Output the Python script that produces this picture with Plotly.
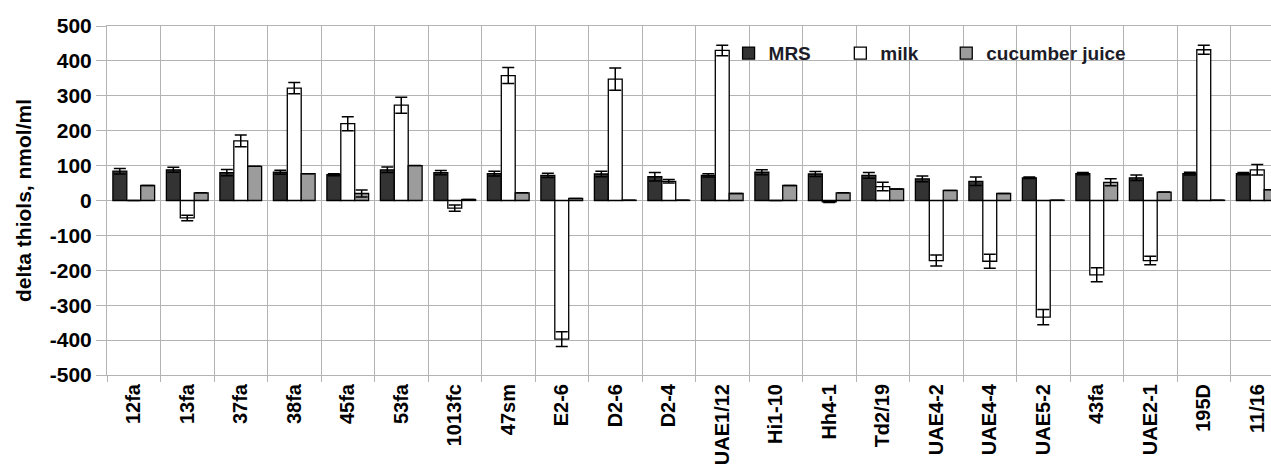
import plotly.graph_objects as go

categories = ["12fa", "13fa", "37fa", "38fa", "45fa", "53fa", "1013fc", "47sm", "E2-6", "D2-6",
              "D2-4", "UAE1/12", "Hi1-10", "Hh4-1", "Td2/19", "UAE4-2", "UAE4-4", "UAE5-2",
              "43fa", "UAE2-1", "195D", "11/16"]

mrs = [84, 88, 80, 81, 74, 88, 80, 77, 72, 76, 68, 72, 81, 76, 72, 62, 55, 65, 77, 65, 77, 77]
mrs_err = [8, 7, 9, 6, 3, 8, 6, 7, 6, 8, 12, 5, 7, 7, 8, 8, 12, 2, 3, 8, 4, 3]

milk = [0, -50, 171, 322, 220, 273, -22, 358, -397, 348, 55, 430, 0, -4, 40, -172, -174, -334, -213, -172, 432, 88]
milk_err = [0, 8, 17, 16, 20, 23, 9, 23, 21, 32, 5, 15, 0, 2, 12, 16, 20, 22, 20, 12, 13, 15]

cucumber = [43, 22, 98, 77, 20, 100, 3, 22, 6, 1, 1, 20, 43, 22, 33, 29, 20, 1, 52, 24, 1, 31]
cucumber_err = [0, 0, 0, 0, 10, 0, 0, 0, 0, 0, 0, 0, 0, 0, 0, 0, 0, 0, 10, 0, 0, 0]

y_tick_values = [500, 400, 300, 200, 100, 0, -100, -200, -300, -400, -500]
y_tick_labels = ["500", "400", "300", "200", "100", "0", "-100", "-200", "-300", "-400", "-500"]

series = [
    ("MRS", mrs, mrs_err, "#333333", "legend"),
    ("milk", milk, milk_err, "#ffffff", "legend2"),
    ("cucumber juice", cucumber, cucumber_err, "#9c9c9c", "legend3"),
]

fig = go.Figure()
for name, vals, errs, color, lg in series:
    fig.add_trace(go.Bar(
        name=name, x=categories, y=vals, legend=lg,
        marker=dict(color=color, line=dict(color="#000000", width=1.3)),
        error_y=dict(type="data", array=errs, visible=True, color="#000000", thickness=1.5, width=6),
    ))

font_family = "Liberation Sans, Arial, sans-serif"
legend_font = dict(family=font_family, size=19, color="#1c1c28", weight="bold")
legend_common = dict(y=0.922, xanchor="left", yanchor="middle", bgcolor="rgba(0,0,0,0)",
                     font=legend_font, borderwidth=0)

fig.update_layout(
    width=1271, height=475,
    margin=dict(l=107, r=0, t=26, b=100),
    paper_bgcolor="white", plot_bgcolor="white",
    barmode="group", bargap=0.22, bargroupgap=0,
    font=dict(family=font_family, color="#000000"),
    showlegend=True,
    legend=dict(x=0.534, **legend_common),
    legend2=dict(x=0.630, **legend_common),
    legend3=dict(x=0.721, **legend_common),
    xaxis=dict(
        type="category", range=[-0.5, 21.257], tickson="boundaries", automargin=False,
        showgrid=True, gridcolor="#b3b3b3", gridwidth=1,
        ticks="outside", ticklen=6, tickcolor="#b3b3b3",
        tickangle=-90, tickfont=dict(family=font_family, size=20, weight="bold", color="#000000"),
        showline=True, linecolor="#b3b3b3", linewidth=1, mirror=True,
    ),
    yaxis=dict(
        range=[-500, 500], tickvals=y_tick_values, ticktext=y_tick_labels, automargin=False,
        showgrid=True, gridcolor="#b3b3b3", gridwidth=1,
        zeroline=True, zerolinecolor="#b3b3b3", zerolinewidth=1,
        ticks="outside", ticklen=10, tickcolor="#b3b3b3",
        tickfont=dict(family=font_family, size=21, weight="bold", color="#000000"),
        showline=True, linecolor="#b3b3b3", linewidth=1, mirror=True,
        title=dict(text="delta thiols, nmol/ml", standoff=12,
                   font=dict(family=font_family, size=21, weight="bold", color="#000000")),
    ),
)

fig.write_html("out.html", config={"displayModeBar": False},
               post_script="document.body.style.margin='0';document.body.style.overflow='hidden';")
